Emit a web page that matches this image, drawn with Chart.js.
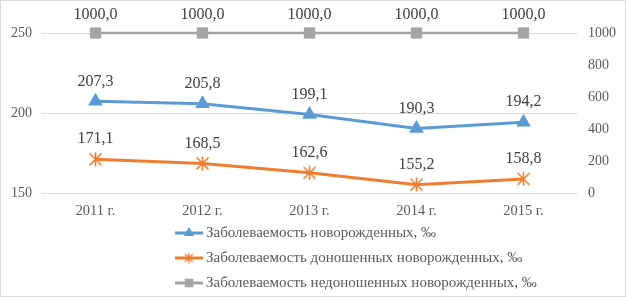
<!DOCTYPE html>
<html><head><meta charset="utf-8">
<script src="https://cdn.jsdelivr.net/npm/chart.js@4.4.0/dist/chart.umd.min.js"></script>
<style>html,body{margin:0;padding:0;background:#fff}canvas{display:block}</style>
</head><body>
<canvas id="c" width="626" height="297"></canvas>
<script>
const categories = ['2011 г.', '2012 г.', '2013 г.', '2014 г.', '2015 г.'];
const seriesNames = [
  'Заболеваемость новорожденных, ‰',
  'Заболеваемость доношенных новорожденных, ‰',
  'Заболеваемость недоношенных новорожденных, ‰'
];
const morbidityAll = [207.3, 205.8, 199.1, 190.3, 194.2];
const morbidityTerm = [171.1, 168.5, 162.6, 155.2, 158.8];
const morbidityPreterm = [1000.0, 1000.0, 1000.0, 1000.0, 1000.0];
const leftTicks = [150, 200, 250];
const rightTicks = [0, 200, 400, 600, 800, 1000];

const FONT = "'Liberation Serif', 'Times New Roman', serif";
const BLUE = '#5B9BD5', ORANGE = '#ED7D31', GRAY = '#A5A5A5';

function makeStar(size, color, lw) {
  const c = document.createElement('canvas');
  c.width = c.height = size;
  const g = c.getContext('2d');
  g.strokeStyle = color; g.lineWidth = lw; g.lineCap = 'butt';
  const m = size / 2, d = size / 2 - 1.5;
  g.beginPath();
  g.moveTo(m - d, m - d); g.lineTo(m + d, m + d);
  g.moveTo(m + d, m - d); g.lineTo(m - d, m + d);
  g.moveTo(m, 0.5); g.lineTo(m, size - 0.5);
  g.stroke();
  return c;
}
const starBig = makeStar(15, ORANGE, 1.6);
const starSmall = makeStar(11, ORANGE, 1.4);

const frame = {
  id: 'frame',
  beforeDraw(chart) {
    const ctx = chart.ctx;
    ctx.save(); ctx.fillStyle = '#fff'; ctx.fillRect(0, 0, chart.width, chart.height); ctx.restore();
  },
  afterDraw(chart) {
    const ctx = chart.ctx;
    ctx.save(); ctx.strokeStyle = '#D9D9D9'; ctx.lineWidth = 1;
    ctx.strokeRect(0.5, 0.5, chart.width - 1, chart.height - 1); ctx.restore();
  }
};

const valueLabels = {
  id: 'valueLabels',
  afterDatasetsDraw(chart) {
    const ctx = chart.ctx;
    ctx.save();
    ctx.font = '16px ' + FONT;
    ctx.fillStyle = '#404040';
    ctx.textAlign = 'center';
    ctx.textBaseline = 'middle';
    chart.data.datasets.forEach((ds, di) => {
      const meta = chart.getDatasetMeta(di);
      meta.data.forEach((pt, i) => {
        const txt = ds.data[i].toFixed(1).replace('.', ',');
        ctx.fillText(txt, pt.x, pt.y - (di === 2 ? 18 : 20));
      });
    });
    ctx.restore();
  }
};

const customLegend = {
  id: 'customLegend',
  afterDraw(chart) {
    const ctx = chart.ctx;
    const x0 = 175, x1 = 203, tx = 206;
    const rowY = [233, 258, 283];
    ctx.save();
    ctx.font = '15px ' + FONT;
    ctx.textBaseline = 'middle';
    ctx.textAlign = 'left';
    chart.data.datasets.forEach((ds, di) => {
      const y = rowY[di];
      ctx.strokeStyle = ds.borderColor; ctx.lineWidth = 3;
      ctx.beginPath(); ctx.moveTo(x0, y); ctx.lineTo(x1, y); ctx.stroke();
      ctx.fillStyle = ds.pointBackgroundColor; ctx.strokeStyle = ds.pointBorderColor;
      Chart.helpers.drawPoint(ctx, {pointStyle: ds.legendPointStyle, radius: ds.legendRadius, rotation: 0, borderWidth: 0}, (x0 + x1) / 2, y);
      ctx.fillStyle = '#595959';
      ctx.fillText(ds.label, tx, y);
    });
    ctx.restore();
  }
};

const tickFmt = v => String(v);

new Chart(document.getElementById('c'), {
  type: 'line',
  data: {
    labels: categories,
    datasets: [
      { label: seriesNames[0], data: morbidityAll, yAxisID: 'y', borderColor: BLUE, borderWidth: 3, clip: false,
        pointStyle: 'triangle', pointRadius: 8.5, pointBackgroundColor: BLUE, pointBorderColor: BLUE, pointBorderWidth: 0,
        legendPointStyle: 'triangle', legendRadius: 6 },
      { label: seriesNames[1], data: morbidityTerm, yAxisID: 'y', borderColor: ORANGE, borderWidth: 3, clip: false,
        pointStyle: starBig, pointRadius: 7, pointBackgroundColor: ORANGE, pointBorderColor: ORANGE,
        legendPointStyle: starSmall, legendRadius: 5 },
      { label: seriesNames[2], data: morbidityPreterm, yAxisID: 'y1', borderColor: GRAY, borderWidth: 2.5, clip: false,
        pointStyle: 'rect', pointRadius: 8, pointBackgroundColor: GRAY, pointBorderColor: GRAY, pointBorderWidth: 0,
        legendPointStyle: 'rect', legendRadius: 6 }
    ]
  },
  options: {
    responsive: false,
    animation: false,
    layout: { padding: { top: 33, bottom: 80, left: 0, right: 0 } },
    plugins: { legend: { display: false }, tooltip: { enabled: false } },
    scales: {
      x: {
        offset: true,
        grid: { display: false, drawTicks: false },
        border: { display: false },
        ticks: { color: '#595959', font: { family: FONT, size: 14.4 }, padding: 10, maxRotation: 0 },
        afterFit: s => { s.height = 24; }
      },
      y: {
        position: 'left', min: 150, max: 250,
        afterBuildTicks: s => { s.ticks = leftTicks.map(v => ({ value: v })); },
        grid: { color: '#D9D9D9', lineWidth: 1, drawTicks: false },
        border: { display: false },
        ticks: { color: '#595959', font: { family: FONT, size: 14 }, padding: 10, callback: tickFmt },
        afterFit: s => { s.width = 42; }
      },
      y1: {
        position: 'right', min: 0, max: 1000,
        afterBuildTicks: s => { s.ticks = rightTicks.map(v => ({ value: v })); },
        grid: { display: false, drawTicks: false },
        border: { display: false },
        ticks: { color: '#595959', font: { family: FONT, size: 14 }, padding: 11, callback: tickFmt },
        afterFit: s => { s.width = 49; }
      }
    }
  },
  plugins: [frame, valueLabels, customLegend]
});
</script>
</body></html>
